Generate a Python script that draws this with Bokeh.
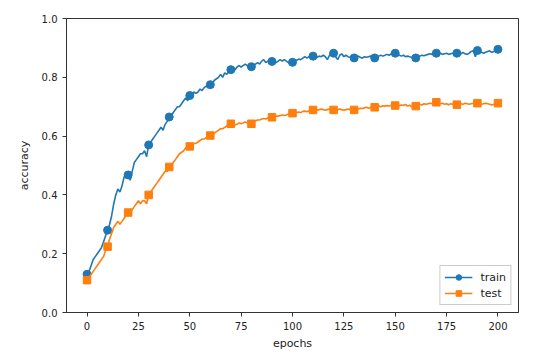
from bokeh.plotting import figure
from bokeh.models import FixedTicker, PrintfTickFormatter, Legend, LegendItem, Range1d
from bokeh.embed import file_html
from bokeh.resources import INLINE

epochs = list(range(201))

train_acc = [
    0.13, 0.14, 0.16, 0.18, 0.19, 0.20, 0.21, 0.22, 0.24, 0.26, 0.28,
    0.30, 0.33, 0.37, 0.40, 0.42, 0.41, 0.43, 0.46, 0.47, 0.468,
    0.45, 0.48, 0.51, 0.52, 0.53, 0.54, 0.54, 0.55, 0.53, 0.57,
    0.58, 0.59, 0.60, 0.61, 0.62, 0.63, 0.62, 0.64, 0.65, 0.665,
    0.67, 0.68, 0.69, 0.70, 0.70, 0.71, 0.72, 0.73, 0.72, 0.738,
    0.74, 0.75, 0.745, 0.75, 0.76, 0.755, 0.765, 0.77, 0.765, 0.775,
    0.78, 0.79, 0.795, 0.80, 0.81, 0.80, 0.815, 0.81, 0.82, 0.826,
    0.83, 0.825, 0.835, 0.84, 0.835, 0.84, 0.845, 0.84, 0.835, 0.836,
    0.84, 0.845, 0.85, 0.845, 0.855, 0.86, 0.85, 0.855, 0.85, 0.854,
    0.856, 0.85, 0.855, 0.86, 0.855, 0.86, 0.855, 0.85, 0.845, 0.851,
    0.86, 0.858, 0.862, 0.86, 0.865, 0.87, 0.865, 0.87, 0.868, 0.872,
    0.87, 0.868, 0.872, 0.87, 0.875, 0.87, 0.86, 0.875, 0.88, 0.882,
    0.87, 0.86, 0.875, 0.88, 0.87, 0.875, 0.87, 0.868, 0.87, 0.866,
    0.87, 0.872, 0.868, 0.865, 0.87, 0.868, 0.87, 0.872, 0.87, 0.866,
    0.87, 0.872, 0.875, 0.872, 0.875, 0.878, 0.875, 0.88, 0.878, 0.882,
    0.878, 0.875, 0.872, 0.875, 0.87, 0.872, 0.87, 0.868, 0.865, 0.866,
    0.87, 0.872, 0.875, 0.873, 0.876, 0.878, 0.88, 0.878, 0.88, 0.882,
    0.88, 0.882, 0.878, 0.88, 0.882, 0.878, 0.88, 0.882, 0.88, 0.882,
    0.878, 0.88, 0.885, 0.88, 0.878, 0.882, 0.888, 0.89, 0.87, 0.891,
    0.888, 0.885, 0.882, 0.885, 0.888, 0.89, 0.885, 0.888, 0.892, 0.895,
]

test_acc = [
    0.11, 0.12, 0.13, 0.14, 0.15, 0.16, 0.17, 0.18, 0.19, 0.21, 0.224,
    0.25, 0.27, 0.29, 0.30, 0.31, 0.30, 0.31, 0.32, 0.33, 0.34,
    0.34, 0.35, 0.36, 0.37, 0.38, 0.37, 0.38, 0.38, 0.37, 0.40,
    0.41, 0.42, 0.43, 0.44, 0.45, 0.46, 0.47, 0.48, 0.48, 0.495,
    0.50, 0.51, 0.52, 0.53, 0.54, 0.545, 0.55, 0.56, 0.56, 0.565,
    0.57, 0.575, 0.575, 0.58, 0.585, 0.59, 0.59, 0.595, 0.60, 0.602,
    0.605, 0.61, 0.615, 0.62, 0.625, 0.625, 0.63, 0.635, 0.64, 0.642,
    0.64, 0.638, 0.64, 0.645, 0.642, 0.645, 0.648, 0.645, 0.648, 0.642,
    0.648, 0.652, 0.655, 0.655, 0.658, 0.66, 0.658, 0.662, 0.66, 0.664,
    0.665, 0.668, 0.668, 0.67, 0.672, 0.67, 0.672, 0.675, 0.674, 0.678,
    0.678, 0.68, 0.682, 0.68, 0.684, 0.685, 0.683, 0.686, 0.688, 0.689,
    0.69, 0.688, 0.69, 0.692, 0.69, 0.688, 0.69, 0.692, 0.69, 0.689,
    0.688, 0.69, 0.692, 0.69, 0.688, 0.69, 0.692, 0.69, 0.688, 0.689,
    0.69, 0.692, 0.695, 0.694, 0.696, 0.698, 0.695, 0.697, 0.698, 0.698,
    0.70, 0.702, 0.70, 0.703, 0.702, 0.704, 0.702, 0.705, 0.703, 0.704,
    0.705, 0.703, 0.706, 0.704, 0.708, 0.702, 0.705, 0.70, 0.703, 0.702,
    0.705, 0.708, 0.706, 0.71, 0.708, 0.71, 0.712, 0.71, 0.713, 0.715,
    0.712, 0.71, 0.712, 0.708, 0.71, 0.707, 0.71, 0.708, 0.706, 0.707,
    0.708, 0.71, 0.708, 0.712, 0.71, 0.708, 0.71, 0.712, 0.71, 0.712,
    0.71, 0.708, 0.71, 0.712, 0.71, 0.708, 0.706, 0.708, 0.71, 0.712,
]

x_ticks = [0, 25, 50, 75, 100, 125, 150, 175, 200]
y_ticks = [0.0, 0.2, 0.4, 0.6, 0.8, 1.0]
marker_every = 10

FONT = "DejaVu Sans"
BLUE = "#1f77b4"
ORANGE = "#ff7f0e"

p = figure(width=543, height=352, output_backend="svg", toolbar_location=None,
           x_range=Range1d(-10, 210), y_range=Range1d(0, 1.0),
           min_border_left=66, min_border_right=25, min_border_top=18, min_border_bottom=40)

mx = epochs[::marker_every]
l1 = p.line(epochs, train_acc, line_color=BLUE, line_width=1.6)
s1 = p.scatter(mx, train_acc[::marker_every], marker="circle", size=8, color=BLUE)
l2 = p.line(epochs, test_acc, line_color=ORANGE, line_width=1.6)
s2 = p.scatter(mx, test_acc[::marker_every], marker="square", size=7.5, color=ORANGE)

p.grid.visible = False
p.outline_line_color = "#333333"
p.outline_line_width = 1

for ax in (p.xaxis[0], p.yaxis[0]):
    ax.major_tick_in = 0
    ax.major_tick_out = 4
    ax.minor_tick_line_color = None
    ax.axis_line_color = "#333333"
    ax.major_tick_line_color = "#333333"
    ax.major_label_text_font = FONT
    ax.major_label_text_font_size = "10px"
    ax.major_label_text_color = "#222222"
    ax.axis_label_text_font = FONT
    ax.axis_label_text_font_size = "11px"
    ax.axis_label_text_font_style = "normal"
    ax.axis_label_text_color = "#222222"

p.xaxis[0].ticker = FixedTicker(ticks=x_ticks)
p.yaxis[0].ticker = FixedTicker(ticks=y_ticks)
p.yaxis[0].formatter = PrintfTickFormatter(format="%.1f")
p.xaxis[0].axis_label = "epochs"
p.yaxis[0].axis_label = "accuracy"
p.xaxis[0].axis_label_standoff = 4
p.yaxis[0].axis_label_standoff = 8

legend = Legend(items=[LegendItem(label="train", renderers=[l1, s1]),
                       LegendItem(label="test", renderers=[l2, s2])],
                location="bottom_right")
legend.label_text_font = FONT
legend.label_text_font_size = "11px"
legend.label_text_color = "#222222"
legend.border_line_color = "#cccccc"
legend.border_line_alpha = 1
legend.margin = 7
legend.padding = 4
legend.spacing = 2
legend.glyph_width = 28
legend.glyph_height = 14
legend.label_height = 14
legend.label_standoff = 8
p.add_layout(legend, "center")

open("out.html", "w").write(file_html(p, INLINE))
